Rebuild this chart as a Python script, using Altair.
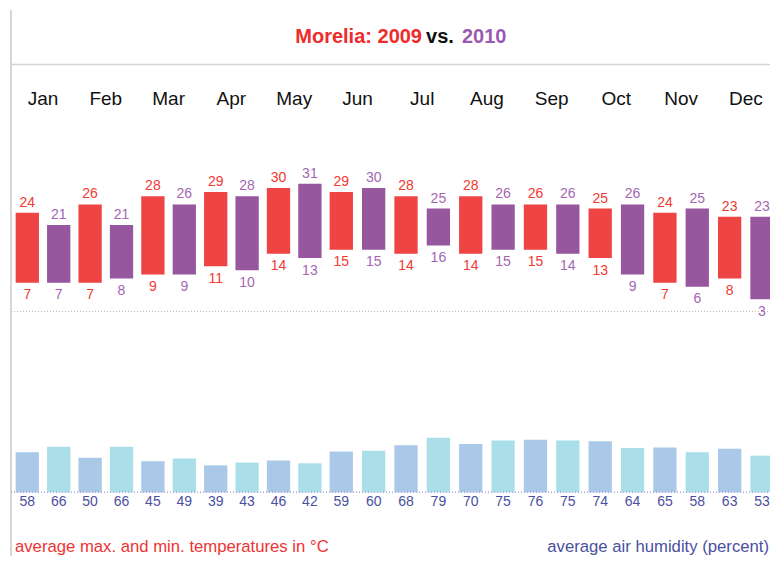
import altair as alt
import pandas as pd

months = ["Jan", "Feb", "Mar", "Apr", "May", "Jun", "Jul", "Aug", "Sep", "Oct", "Nov", "Dec"]
years = ["2009", "2010"]
max_2009 = [24, 26, 28, 29, 30, 29, 28, 28, 26, 25, 24, 23]
min_2009 = [7, 7, 9, 11, 14, 15, 14, 14, 15, 13, 7, 8]
max_2010 = [21, 21, 26, 28, 31, 30, 25, 26, 26, 26, 25, 23]
min_2010 = [7, 8, 9, 10, 13, 15, 16, 15, 14, 9, 6, 3]
hum_2009 = [58, 50, 45, 39, 46, 59, 68, 70, 76, 74, 65, 63]
hum_2010 = [66, 66, 49, 43, 42, 60, 79, 75, 75, 64, 58, 53]

rows = []
for m, name in enumerate(months):
    rows.append(dict(slot=2 * m, month=name, year="2009", max=max_2009[m], min=min_2009[m], hum=hum_2009[m]))
    rows.append(dict(slot=2 * m + 1, month=name, year="2010", max=max_2010[m], min=min_2010[m], hum=hum_2010[m]))
df = pd.DataFrame(rows)
mdf = pd.DataFrame({"month": months, "mx": [2 * i + 0.5 for i in range(12)]})
one = pd.DataFrame({"z": [0]})

FONT = "Liberation Sans"
W, H = 762, 548

xscale = alt.Scale(domain=[0, 10, 23], range=[19.3, 333.3, 754], nice=False, zero=False, padding=0)
tscale = alt.Scale(domain=[0, 31], range=[303.5, 175.8], nice=False)
hscale = alt.Scale(domain=[0, 79], range=[484.3, 429.7], nice=False)

X = alt.X("slot:Q", scale=xscale, axis=None)

bar_col = alt.Color("year:N", scale=alt.Scale(domain=years, range=["#ee4444", "#96579f"]), legend=None)
lab_col = alt.Color("year:N", scale=alt.Scale(domain=years, range=["#f03a32", "#a466b4"]), legend=None)
hum_col = alt.Color("year:N", scale=alt.Scale(domain=years, range=["#aac9e8", "#aadfea"]), legend=None)

base = alt.Chart(df)

t_bars = base.mark_bar(size=23.3).encode(
    x=X, y=alt.Y("min:Q", scale=tscale, axis=None), y2="max:Q", color=bar_col)
t_max = base.mark_text(font=FONT, fontSize=14, baseline="alphabetic", dy=-6).encode(
    x=X, y=alt.Y("max:Q", scale=tscale, axis=None), text="max:Q", color=lab_col)
t_min = base.mark_text(font=FONT, fontSize=14, baseline="alphabetic", dy=16.6).encode(
    x=X, y=alt.Y("min:Q", scale=tscale, axis=None), text="min:Q", color=lab_col)
t_zero = alt.Chart(one).mark_rule(color="#c9b6a4", strokeDash=[1, 2], strokeWidth=1.2).encode(
    y=alt.Y("z:Q", scale=tscale, axis=None), x=alt.value(3), x2=alt.value(W))
temp = alt.layer(t_zero, t_bars, t_max, t_min).resolve_scale(color="independent")

h_bars = base.mark_bar(size=23.3).encode(
    x=X, y=alt.Y("hum:Q", scale=hscale, axis=None), color=hum_col)
h_lab = base.mark_text(font=FONT, fontSize=14, baseline="alphabetic", dy=13.7, color="#4b50a0").encode(
    x=X, y=alt.Y("zero:Q", scale=hscale, axis=None), text="hum:Q").transform_calculate(zero="0")
h_zero = alt.Chart(one).mark_rule(color="#a3aacb", strokeDash=[1, 2], strokeWidth=1.5).encode(
    y=alt.Y("z:Q", scale=hscale, axis=None), x=alt.value(3), x2=alt.value(W))
hum = alt.layer(h_bars, h_zero, h_lab).resolve_scale(color="independent")

month_lab = alt.Chart(mdf).mark_text(font=FONT, fontSize=19, baseline="middle", color="#111111").encode(
    x=alt.X("mx:Q", scale=xscale, axis=None), y=alt.value(91), text="month:N")

fr = alt.Chart(one)
vline = fr.mark_rule(color="#d6d6d6", strokeWidth=2).encode(x=alt.value(3), y=alt.value(2), y2=alt.value(H))
hline = fr.mark_rule(color="#d3d3d3", strokeWidth=1.5).encode(x=alt.value(3), x2=alt.value(W), y=alt.value(56.5))
title1 = fr.mark_text(text="Morelia: 2009", font=FONT, fontSize=20, fontWeight="bold", align="right",
                      baseline="middle", color="#ee2c2c").encode(x=alt.value(414), y=alt.value(29))
title2 = fr.mark_text(text="vs.", font=FONT, fontSize=20, fontWeight="bold", align="center",
                      baseline="middle", color="#111111").encode(x=alt.value(432), y=alt.value(29))
title3 = fr.mark_text(text="2010", font=FONT, fontSize=20, fontWeight="bold", align="left",
                      baseline="middle", color="#9b59b0").encode(x=alt.value(454), y=alt.value(29))
foot1 = fr.mark_text(text="average max. and min. temperatures in °C", font=FONT, fontSize=16.7, align="left",
                     baseline="alphabetic", color="#ee3333").encode(x=alt.value(7), y=alt.value(543.5))
foot2 = fr.mark_text(text="average air humidity (percent)", font=FONT, fontSize=16.7, align="right",
                     baseline="alphabetic", color="#4b50a0").encode(x=alt.value(W - 1), y=alt.value(543.5))

chart = alt.layer(
    vline, hline, temp, hum, month_lab, title1, title2, title3, foot1, foot2
).resolve_scale(y="independent", color="independent").properties(
    width=W, height=H, padding=0, autosize=alt.AutoSizeParams(type="none")
).configure_view(stroke=None)

chart.save("out.html", embed_options={"renderer": "svg", "actions": False})
